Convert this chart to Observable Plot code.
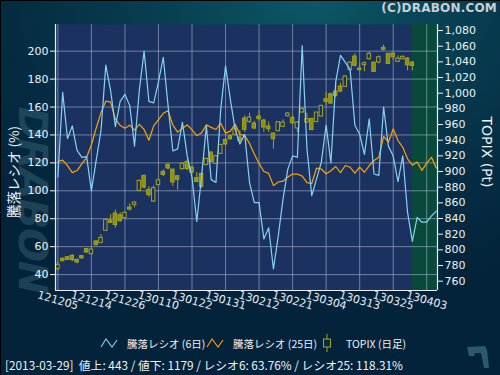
<!DOCTYPE html>
<html>
<head>
<meta charset="utf-8">
<script src="https://cdn.jsdelivr.net/npm/d3@7"></script>
<script src="https://cdn.jsdelivr.net/npm/@observablehq/plot@0.6"></script>
<style>
  html, body { margin: 0; padding: 0; background: #03223a; }
  #wrap {
    position: relative; width: 500px; height: 375px; overflow: hidden;
    background: radial-gradient(ellipse 420px 300px at 62% 0%, #0b5866 0%, #083f52 35%, #052c43 70%, #03233a 100%);
    box-shadow: inset 1px 1px 0 #000;
    font-family: "DejaVu Sans", "Noto Sans CJK JP", sans-serif;
    color: #eef2f6;
  }
  #wrap > svg { position: absolute; left: 0; top: 0; }
  .abs { position: absolute; white-space: nowrap; }
  #copy { right: 3px; top: 1px; font: bold 12px "DejaVu Sans", sans-serif; color: #c6d0d8; letter-spacing: 0.2px; }
  #wm { left: 33px; top: 200px; transform: translate(-50%, -50%) rotate(90deg) skewX(-12deg); font: bold 40px "DejaVu Sans", sans-serif; color: rgba(95,145,155,0.30); letter-spacing: -1px; }
  #ytitle { left: 13px; top: 172px; transform: translate(-50%, -50%) rotate(-90deg); font-size: 13.5px; font-family: "Noto Sans CJK JP", sans-serif; }
  #y2title { left: 487px; top: 152px; transform: translate(-50%, -50%) rotate(90deg); font-size: 14px; font-family: "DejaVu Sans", sans-serif; }
  #legend { left: 0; width: 500px; top: 334px; height: 18px; font-size: 10.5px; font-family: "Noto Sans CJK JP", sans-serif; }
  #legend .it { position: absolute; top: 0; height: 18px; display: flex; align-items: center; }
  #legend svg { display: block; }
  #status { left: 5px; top: 356px; font-size: 11.8px; font-family: "Noto Sans CJK JP", sans-serif; }
</style>
</head>
<body>
<div id="wrap">
  <div id="wm" class="abs">DRABON</div>
</div>
<script>
// ---- data -------------------------------------------------------------
const xTickLabels = ["121205","121214","121226","130110","130122","130131","130212","130221","130304","130313","130325","130403"];
const xTickStep = 7; // trading days between labelled ticks
const ratioTicks = [40, 60, 80, 100, 120, 140, 160, 180, 200];
const topixTicks = [760, 780, 800, 820, 840, 860, 880, 900, 920, 940, 960, 980, 1000, 1020, 1040, 1060, 1080];

// 騰落レシオ (6日)
const ratio6 = [110, 170.5, 137.5, 146.5, 129, 124, 124.5, 100, 122, 143,
  190, 172, 146, 164, 169, 161, 132, 172, 200, 164,
  163, 178, 195.5, 161, 128.5, 130, 149, 125, 109.5, 78,
  110.5, 146.5, 108, 106, 158.5, 189.5, 165.5, 144, 133.5, 140.5,
  106, 91.5, 91.5, 65.5, 73.5, 44, 67.5, 94, 115.5, 125,
  124, 204, 130, 96.5, 108.5, 120.5, 147, 120, 178, 197,
  192, 187, 147, 140.5, 126, 151.5, 112, 111, 160, 132,
  125, 106.5, 125, 84.5, 63.76, 81, 77.5, 77.5, 82, 85.5];

// 騰落レシオ (25日)
const ratio25 = [121, 122, 118, 113, 114.5, 119.3, 124, 133, 145, 156,
  164.2, 163.5, 151.5, 146.8, 144.8, 147, 143.4, 147.6, 143.9, 136.2,
  146.5, 151, 155.5, 157.4, 147, 142, 144.8, 147.2, 143.6, 139.5,
  141.5, 147.2, 145.4, 143.9, 148.4, 141.3, 142.7, 147.8, 140.5, 139.5,
  134, 126.3, 119.5, 113.8, 112.5, 103.7, 106.3, 106.9, 109.8, 112,
  112, 110.5, 105.8, 105.2, 116.3, 115.6, 112.2, 114.4, 117.4, 113,
  118.1, 116.9, 112.6, 116.9, 113.3, 118.1, 121.7, 124.1, 139, 134.8,
  144.3, 136, 131.2, 122.9, 118.31, 120.6, 114.6, 119.8, 124, 116.4];

// TOPIX 日足 (2012-12-05 .. 2013-03-29)
const topixOpen = [775.3, 788.5, 790.6, 792.3, 787.2, 791.9, 800.9, 794.5, 810.7, 808.5,
  824.3, 837.5, 846.4, 844.3, 840.4, 854, 857.4, 875.3, 894.5, 876.6,
  861.7, 882.6, 899.6, 908.5, 902.5, 894, 903, 912.3, 905.1, 891.5,
  897, 908.5, 924.3, 909.8, 922.6, 940.4, 945.1, 946.8, 943.4, 967.7,
  963.4, 961.3, 970.2, 965.1, 957.4, 948.5, 951.5, 957, 970.6, 968.5,
  954.9, 975.3, 962.5, 967.2, 963, 970.2, 992.3, 998.7, 1002.1, 1008.5,
  1008.1, 1029.4, 1046.8, 1031.5, 1035.7, 1043.4, 1039.1, 1039.1, 1057.9, 1050.2,
  1050.6, 1040, 1043.4, 1044.2, 1039.1];
const topixHigh = [784.7, 789.8, 791.5, 794, 788.1, 792.8, 802.1, 801.7, 811.9, 819.6,
  839.2, 845.1, 851.1, 847.7, 848.5, 858.7, 861.3, 889, 895.3, 880.8,
  881.7, 891.5, 902.1, 910.6, 902.5, 894.9, 911.5, 914.9, 906.4, 898.7,
  898.7, 917, 925.1, 920.9, 934.5, 942.5, 947.2, 958.3, 951.9, 971.1,
  974.5, 964.2, 977.9, 966.8, 963.4, 948.5, 963.8, 966, 975.3, 972.3,
  963.8, 981.7, 974.5, 967.2, 975.3, 984.7, 1000.8, 1000, 1013.6, 1012.8,
  1022.1, 1040, 1050.2, 1038.3, 1040, 1052.8, 1039.1, 1047.6, 1061.3, 1050.2,
  1050.6, 1047.6, 1047.6, 1045.5, 1040];
const topixLow = [773.2, 784.7, 786.4, 785.1, 782.1, 788.1, 795.8, 793.6, 805.1, 808.5,
  823.4, 834, 827.7, 835.3, 839.6, 849.4, 853.6, 874, 877.5, 867.2,
  860.4, 881.7, 893.6, 902.1, 881.1, 876.2, 902.1, 900.8, 896.6, 886,
  878.7, 907.2, 911.5, 908.9, 922, 932.7, 939.6, 945.5, 937.9, 949.8,
  961.3, 953.2, 964.2, 949.8, 949.8, 928.5, 950.6, 956.2, 969.4, 959.6,
  949.8, 974.5, 961.7, 952.8, 963, 969.4, 983.8, 985.5, 994, 1000.8,
  1007.2, 1028.1, 1033.6, 1027.2, 1027.2, 1042.1, 1027.2, 1037.4, 1053.6, 1037.4,
  1041.7, 1039.1, 1042.5, 1028.5, 1028.5];
const topixClose = [780.9, 785.5, 787.2, 786.8, 783.9, 789, 796.6, 800.4, 806, 815.3,
  838.3, 834.5, 831.5, 836.6, 847.2, 851.5, 860.4, 888.1, 879.6, 869.8,
  878.7, 888.9, 895.7, 903.8, 886, 889.4, 909.8, 903, 898.7, 886.8,
  880.4, 916.2, 912.3, 919.6, 934, 934.5, 941.3, 954, 939.1, 953.2,
  968.9, 954.9, 966.8, 956.2, 954, 941.3, 963, 962.5, 974, 961.7,
  962.5, 980, 966.8, 952.8, 975.3, 983.8, 988.9, 986.8, 996.6, 1002.1,
  1021.3, 1039.1, 1034.9, 1029.4, 1038.3, 1050.2, 1027.2, 1045.9, 1055.3, 1037.4,
  1045.9, 1044.2, 1046.4, 1035.7, 1034.71];

const statusText = "[2013-03-29]\u00a0\u00a0値上: 443 / 値下: 1179 / レシオ6: 63.76% / レシオ25: 118.31%";
const legendLabels = ["騰落レシオ (6日)", "騰落レシオ (25日)", "TOPIX (日足)"];

// ---- scales -----------------------------------------------------------
// left axis (ratio %) spans ratioSpan over the frame; right axis (TOPIX) spans topixSpan
const ratioSpan = [28.6, 219.1];
const topixSpan = [748.1, 1087.7];
const toRatio = t => ratioSpan[0] + (t - topixSpan[0]) / (topixSpan[1] - topixSpan[0]) * (ratioSpan[1] - ratioSpan[0]);
const fromRatio = r => topixSpan[0] + (r - ratioSpan[0]) / (ratioSpan[1] - ratioSpan[0]) * (topixSpan[1] - topixSpan[0]);

const COL6 = "#86d2f2", COL25 = "#ffa200", CANDLE = "#a4a41e", CANDLEFILL = "#8e8e12", PLOTBG = "#1b3261", FUTURE = "#08493b";

const r6 = ratio6.map((v, i) => ({i, v}));
const r25 = ratio25.map((v, i) => ({i, v}));
const candles = topixOpen.map((o, i) => ({i, open: o, high: topixHigh[i], low: topixLow[i], close: topixClose[i]}));
const lastIdx = candles.length - 1;
const xDomain = [-0.5, ratio6.length - 0.75];
const xTicks = xTickLabels.map((_, k) => k * xTickStep);

const chart = Plot.plot({
  width: 500, height: 375,
  marginTop: 24, marginBottom: 85, marginLeft: 55, marginRight: 63,
  style: {background: "transparent", color: "#eef2f6", fontFamily: "DejaVu Sans", fontSize: "10.5px", overflow: "visible"},
  x: {domain: xDomain, axis: null},
  y: {domain: ratioSpan, axis: null},
  marks: [
    Plot.frame({fill: PLOTBG, stroke: null}),
    Plot.rect([{a: lastIdx, b: xDomain[1]}], {x1: "a", x2: "b", fill: FUTURE}),
    Plot.gridY(ratioTicks, {stroke: "#c2cde2", strokeOpacity: 0.5, strokeWidth: 1}),
    Plot.gridX(xTicks, {stroke: "#c2cde2", strokeOpacity: 0.5, strokeWidth: 1}),
    Plot.ruleX(candles, {x: "i", y1: d => toRatio(d.low), y2: d => toRatio(d.high), stroke: CANDLE, strokeWidth: 1}),
    Plot.rect(candles, {
      x1: d => d.i - 0.36, x2: d => d.i + 0.36,
      y1: d => toRatio(d.open), y2: d => toRatio(d.close),
      fill: d => d.close >= d.open ? PLOTBG : CANDLEFILL,
      stroke: CANDLE, strokeWidth: 1
    }),
    Plot.line(r25, {x: "i", y: "v", stroke: COL25, strokeWidth: 1.2}),
    Plot.line(r6, {x: "i", y: "v", stroke: COL6, strokeWidth: 1.2}),
    Plot.ruleX([xDomain[0], xDomain[1]], {stroke: "#e8eef4", strokeWidth: 1.2}),
    Plot.ruleY([ratioSpan[0]], {stroke: "#e8eef4", strokeWidth: 1.2}),
    Plot.axisY(ratioTicks, {anchor: "left", label: null, tickSize: 5, tickPadding: 2, color: "#eef2f6", fontSize: 11}),
    Plot.axisY(topixTicks.map(toRatio), {anchor: "right", label: null, tickSize: 5, tickPadding: 2, color: "#eef2f6", fontSize: 11,
      tickFormat: d => d3.format(",")(Math.round(fromRatio(d)))}),
    Plot.text(xTicks, {x: d => d, text: (d, k) => xTickLabels[k], frameAnchor: "bottom", dy: 10, rotate: 16,
      textAnchor: "middle", lineAnchor: "middle", fill: "#e4eaf0", fontSize: 11})
  ]
});

const wrap = document.getElementById("wrap");
wrap.appendChild(chart);

function addDiv(id, html) {
  const d = document.createElement("div");
  d.id = id; d.className = "abs"; d.innerHTML = html;
  wrap.appendChild(d);
  return d;
}
addDiv("copy", "(C)DRABON.COM");
addDiv("ytitle", "騰落レシオ (%)");
addDiv("y2title", "TOPIX (Pt)");
addDiv("status", statusText);

const zig = c => `<svg width="18" height="12" style="margin-right:9px"><polyline points="1,10 6,2 12,10 17,3" fill="none" stroke="${c}" stroke-width="1.1"/></svg>`;
const candleIcon = `<svg width="12" height="18" style="margin-right:13px"><line x1="6" y1="0" x2="6" y2="18" stroke="${CANDLE}"/><rect x="2.5" y="5" width="7" height="8" fill="#052c43" stroke="${CANDLE}"/></svg>`;
const legend = addDiv("legend", "");
const items = [
  {left: 100, icon: zig(COL6), label: legendLabels[0]},
  {left: 206, icon: zig(COL25), label: legendLabels[1]},
  {left: 321, icon: candleIcon, label: legendLabels[2]}
];
for (const it of items) {
  const e = document.createElement("div");
  e.className = "it"; e.style.left = it.left + "px";
  e.innerHTML = it.icon + "<span>" + it.label + "</span>";
  legend.appendChild(e);
}
// small decorative logo bottom-right
addDiv("logo", `<svg width="26" height="26"><path d="M2,3 L20,2 L22,6 L24,24 L19,24 L16,9 L10,9 L9,12 L4,12 Z" fill="#2b5a6b"/></svg>`).style.cssText = "left:465px;top:344px;";
</script>
</body>
</html>
